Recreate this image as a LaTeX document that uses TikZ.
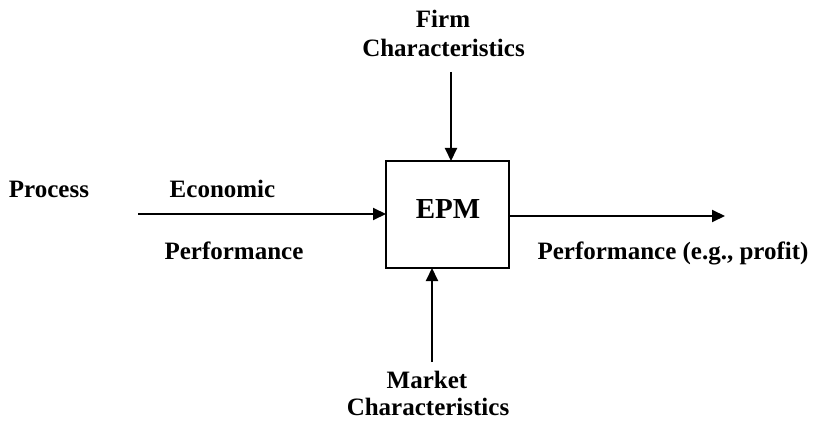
\documentclass[tikz,border=0pt]{standalone}
\usepackage{fontspec}
\setmainfont{Liberation Serif}
\usetikzlibrary{arrows.meta}
\begin{document}
\begin{tikzpicture}[x=1pt,y=-1pt,
  lbl/.style={font=\fontsize{25}{30}\selectfont\bfseries, inner sep=0pt, anchor=base},
  boxstyle/.style={draw, line width=2pt, minimum width=123pt, minimum height=107pt, inner sep=0pt},
  arr/.style={line width=2pt, -{Triangle[length=13pt,width=12pt]}, shorten >=-1pt}]
\useasboundingbox (0,0) rectangle (814,422);
% central box
\node[boxstyle] (epm) at (447.5,214.5) {};
\node[lbl, font=\fontsize{29}{34}\selectfont\bfseries] (epmtext) at (448,219) {EPM};
% labels
\node[lbl] (process) at (49,198) {Process};
\node[lbl] (economic) at (222.5,198) {Economic};
\node[lbl] (perfleft) at (234,259) {Performance};
\node[lbl] (perfright) at (673,259) {Performance (e.g., profit)};
\node[lbl] (firm) at (443,28) {Firm};
\node[lbl] (firmchar) at (443.5,57) {Characteristics};
\node[lbl] (market) at (427,388) {Market};
\node[lbl] (marketchar) at (428,415) {Characteristics};
% free ends
\coordinate (lstart) at (138,214);
\coordinate (rend) at (725,216);
\coordinate (tstart) at (451,72);
\coordinate (bstart) at (432,362);
% connectors
\draw[arr] (lstart) -- (lstart -| epm.west);
\draw[arr, shorten >=0pt] (rend -| epm.east) -- (rend);
\draw[arr] (tstart) -- (tstart |- epm.north);
\draw[arr] (bstart) -- (bstart |- epm.south);
\end{tikzpicture}
\end{document}
